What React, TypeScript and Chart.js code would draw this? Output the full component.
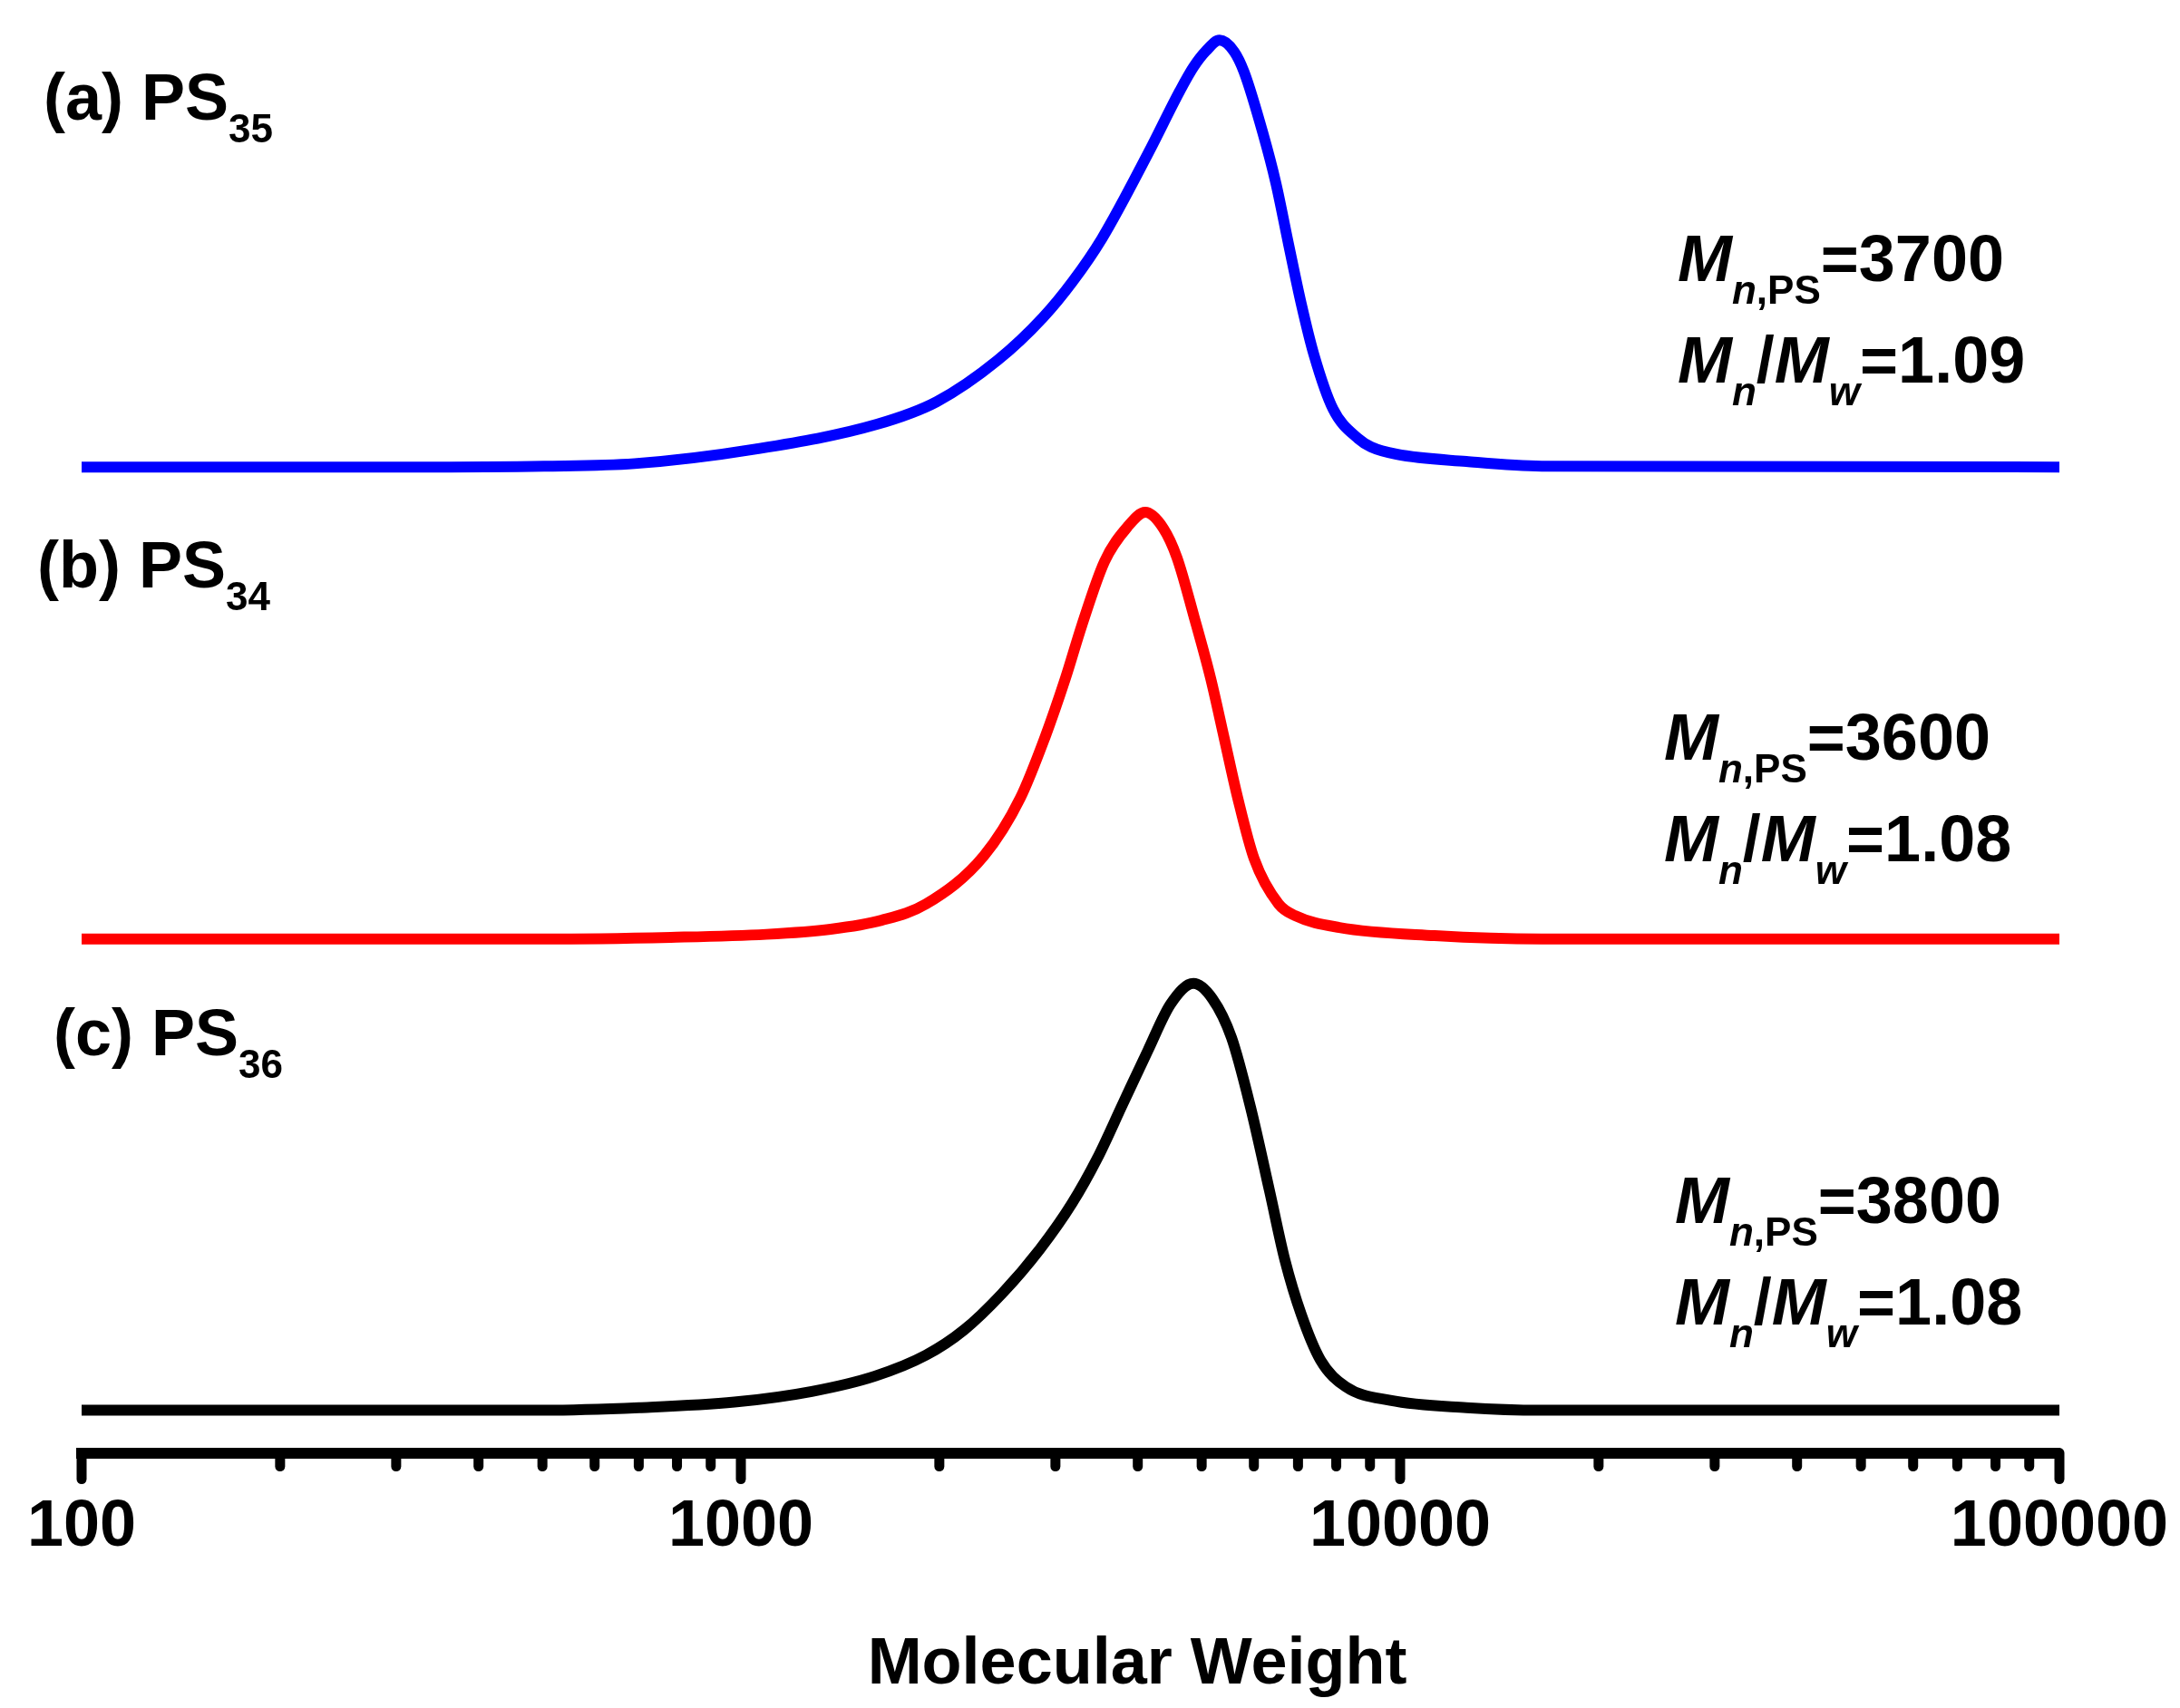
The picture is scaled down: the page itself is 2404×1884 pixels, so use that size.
import React, { useEffect, useRef } from "react";
import Chart from "chart.js/auto";

// GPC traces: molecular weight vs normalised RI signal
const mwA = [100, 313, 503, 690, 1052, 1608, 1982, 2451, 2871, 3187, 3528, 4147, 4632, 4858, 5076, 5323, 5602, 5800, 6198, 6480, 6773, 7081, 7401, 7911, 8645, 9036, 9874, 12604, 16393, 100000];
const sigA = [0, 0, 0.002, 0.008, 0.042, 0.1, 0.153, 0.25, 0.35, 0.435, 0.535, 0.735, 0.881, 0.937, 0.975, 1.0, 0.973, 0.925, 0.78, 0.665, 0.522, 0.382, 0.263, 0.136, 0.066, 0.047, 0.03, 0.013, 0.002, 0];

const mwB = [100, 503, 783, 1093, 1368, 1634, 1909, 2337, 2653, 2890, 3107, 3290, 3562, 3855, 4107, 4375, 4586, 4873, 5159, 5409, 5672, 6006, 6543, 6925, 8088, 11279, 16393, 100000];
const sigB = [0, 0, 0.004, 0.011, 0.023, 0.044, 0.082, 0.195, 0.33, 0.471, 0.611, 0.735, 0.885, 0.965, 1.0, 0.962, 0.894, 0.753, 0.611, 0.471, 0.33, 0.188, 0.082, 0.055, 0.027, 0.008, 0, 0];

const mwC = [100, 503, 701, 978, 1281, 1598, 1909, 2180, 2489, 2844, 3177, 3472, 3794, 4147, 4487, 4858, 5192, 5549, 5930, 6337, 6689, 7081, 7568, 8270, 9658, 12604, 16393, 100000];
const sigC = [0, 0, 0.006, 0.019, 0.044, 0.08, 0.129, 0.188, 0.273, 0.378, 0.484, 0.59, 0.717, 0.844, 0.952, 1.0, 0.964, 0.873, 0.71, 0.514, 0.351, 0.224, 0.118, 0.055, 0.023, 0.006, 0, 0];

// vertical offsets used to stack the traces
const offsets = [2.21, 1.104, 0];
const colors = ["#0000FF", "#FF0000", "#000000"];

const sampleTags = ["(a) PS", "(b) PS", "(c) PS"];
const sampleSubs = ["35", "34", "36"];
const mnValues = ["3700", "3600", "3800"];
const pdiValues = ["1.09", "1.08", "1.08"];

const majorTicks = [100, 1000, 10000, 100000];
const minorSteps = [2, 3, 4, 5, 6, 7, 8, 9];
const xTitle = "Molecular Weight";

const FONT = "'Liberation Sans', Arial, sans-serif";

type Run = { t: string; it?: boolean; sub?: boolean };

function drawRuns(ctx: CanvasRenderingContext2D, x: number, y: number, runs: Run[]) {
  let cx = x;
  for (const r of runs) {
    ctx.font = `${r.it ? "italic " : ""}bold ${r.sub ? 44 : 72}px ${FONT}`;
    ctx.fillText(r.t, cx, r.sub ? y + 25 : y);
    cx += ctx.measureText(r.t).width;
  }
}

// label positions (canvas px)
const tagPos = [[48, 132], [41, 648], [59, 1164]];
const infoPos = [[1850, 310], [1835, 838], [1847, 1349]];

const overlay = {
  id: "overlay",
  afterDraw(chart: any) {
    const ctx: CanvasRenderingContext2D = chart.ctx;
    const xs = chart.scales.x;
    const base = chart.chartArea.bottom;
    ctx.save();
    ctx.strokeStyle = "#000";
    ctx.lineWidth = 11;
    ctx.lineCap = "round";
    const all: { v: number; major: boolean }[] = [];
    majorTicks.forEach((m, i) => {
      all.push({ v: m, major: true });
      if (i < majorTicks.length - 1) minorSteps.forEach((s) => all.push({ v: m * s, major: false }));
    });
    all.forEach(({ v, major }) => {
      const px = xs.getPixelForValue(v);
      ctx.beginPath();
      ctx.moveTo(px, base);
      ctx.lineTo(px, base + (major ? 29 : 15));
      ctx.stroke();
    });

    ctx.fillStyle = "#000";
    ctx.textBaseline = "alphabetic";
    ctx.textAlign = "center";
    ctx.font = `bold 72px ${FONT}`;
    ctx.fillText(xTitle, 1254, 1857);

    ctx.textAlign = "left";
    for (let i = 0; i < 3; i++) {
      drawRuns(ctx, tagPos[i][0], tagPos[i][1], [{ t: sampleTags[i] }, { t: sampleSubs[i], sub: true }]);
      const [ix, iy] = infoPos[i];
      drawRuns(ctx, ix, iy, [
        { t: "M", it: true },
        { t: "n", it: true, sub: true },
        { t: ",PS", sub: true },
        { t: "=" + mnValues[i] },
      ]);
      drawRuns(ctx, ix, iy + 112, [
        { t: "M", it: true },
        { t: "n", it: true, sub: true },
        { t: "/" },
        { t: "M", it: true },
        { t: "w", it: true, sub: true },
        { t: "=" + pdiValues[i] },
      ]);
    }
    ctx.restore();
  },
};

const App: React.FC = () => {
  const canvasRef = useRef<HTMLCanvasElement>(null);
  const chartRef = useRef<Chart | null>(null);

  useEffect(() => {
    const ctx = canvasRef.current?.getContext("2d");
    if (!ctx) return;
    if (chartRef.current) chartRef.current.destroy();

    const traces = [
      [mwA, sigA],
      [mwB, sigB],
      [mwC, sigC],
    ];

    chartRef.current = new Chart(ctx, {
      type: "line",
      data: {
        datasets: traces.map(([mw, sig], i) => ({
          data: mw.map((m, j) => ({ x: m, y: sig[j] + offsets[i] })),
          borderColor: colors[i],
          borderWidth: 12,
          borderJoinStyle: "round",
          pointRadius: 0,
          fill: false,
          cubicInterpolationMode: "monotone",
        })),
      },
      options: {
        animation: false,
        responsive: true,
        maintainAspectRatio: false,
        devicePixelRatio: 1,
        layout: { padding: { left: 90, right: 133, top: 2, bottom: 146 } },
        plugins: { legend: { display: false }, tooltip: { enabled: false } },
        scales: {
          x: {
            type: "logarithmic",
            min: 100,
            max: 100000,
            position: "bottom",
            border: { display: true, color: "#000", width: 12 },
            grid: {
              display: true,
              drawOnChartArea: false,
              drawTicks: true,
              tickLength: 29,
              color: "rgba(0,0,0,0)",
              tickColor: "rgba(0,0,0,0)",
            },
            afterBuildTicks: (axis: any) => {
              axis.ticks = majorTicks.map((v) => ({ value: v }));
            },
            ticks: {
              autoSkip: false,
              maxRotation: 0,
              padding: 10,
              color: "#000",
              font: { family: FONT, size: 72, weight: "bold", lineHeight: 1.2 },
              callback: (v: any) => String(v),
            },
          },
          y: {
            type: "linear",
            display: false,
            min: -0.1,
            max: 3.3,
          },
        },
      },
      plugins: [overlay],
    } as any);

    return () => {
      if (chartRef.current) {
        chartRef.current.destroy();
        chartRef.current = null;
      }
    };
  }, []);

  return (
    <div style={{ position: "fixed", left: 0, top: 0, width: 2404, height: 1884, background: "#fff" }}>
      <canvas ref={canvasRef} />
    </div>
  );
};

export default App;
